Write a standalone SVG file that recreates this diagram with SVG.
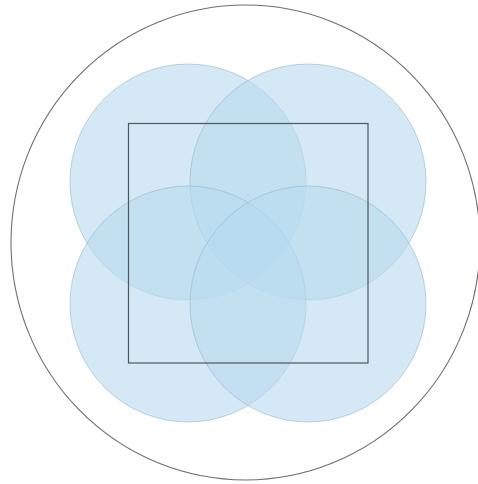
<svg xmlns="http://www.w3.org/2000/svg" width="478" height="484" viewBox="0 0 478 484">
<style>
.c{fill:#b7daee;fill-opacity:0.6;stroke:#94b6c8;stroke-opacity:0.6;stroke-width:1}
</style>
<rect width="478" height="484" fill="#ffffff"/>
<g id="outer"><ellipse cx="245.5" cy="242.5" rx="234.5" ry="237.5" fill="none" stroke="#6b6f75" stroke-width="1.1"/></g>
<g id="circle-tl"><circle class="c" cx="188" cy="182" r="118"/></g>
<g id="circle-tr"><circle class="c" cx="308" cy="182" r="118"/></g>
<g id="circle-bl"><circle class="c" cx="188" cy="304" r="118"/></g>
<g id="circle-br"><circle class="c" cx="308" cy="304" r="118"/></g>
<g id="square"><rect x="128.5" y="123.5" width="239.5" height="239.5" fill="none" stroke="#4f5860" stroke-width="1.2"/></g>
<g id="connectors"></g>
</svg>
